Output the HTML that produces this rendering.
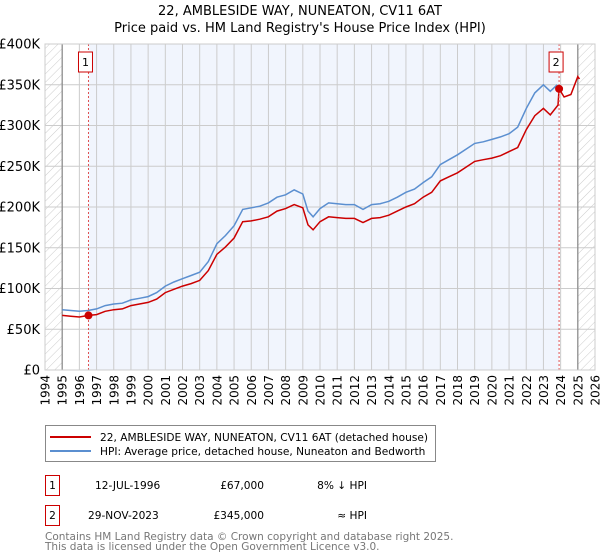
<!DOCTYPE html>
<html><head><meta charset="utf-8"><style>
body{margin:0;background:#fff;font-family:"Liberation Sans","DejaVu Sans",sans-serif;}
svg{display:block}
text{font-family:"DejaVu Sans","Liberation Sans",sans-serif;}
</style></head><body>
<svg id="chart" width="600" height="560" xmlns="http://www.w3.org/2000/svg">
<defs>
<pattern id="hatch" patternUnits="userSpaceOnUse" width="6" height="6" patternTransform="rotate(45)">
<line x1="0" y1="0" x2="0" y2="6" stroke="#ccc" stroke-width="1"/></pattern>
</defs>
<text x="300" y="15" text-anchor="middle" font-size="13">22, AMBLESIDE WAY, NUNEATON, CV11 6AT</text>
<text x="300" y="32" text-anchor="middle" font-size="13">Price paid vs. HM Land Registry's House Price Index (HPI)</text>
<g id="plot"></g>
<g>
<rect x="45.5" y="425.5" width="390" height="36" fill="#fff" stroke="#888"/>
<line x1="50" y1="437" x2="91" y2="437" stroke="#cc0000" stroke-width="2"/>
<text x="100" y="441" font-size="10.6">22, AMBLESIDE WAY, NUNEATON, CV11 6AT (detached house)</text>
<line x1="50" y1="451" x2="91" y2="451" stroke="#5b8fd0" stroke-width="2"/>
<text x="100" y="455" font-size="10.6">HPI: Average price, detached house, Nuneaton and Bedworth</text>
</g>
<g font-size="10.6">
<rect x="45.5" y="475.5" width="14" height="20" fill="#fff" stroke="#cc0000"/>
<text x="52.5" y="489" text-anchor="middle">1</text>
<text x="95" y="489">12-JUL-1996</text>
<text x="264" y="489" text-anchor="end">£67,000</text>
<text x="367" y="489" text-anchor="end">8% ↓ HPI</text>
<rect x="45.5" y="505.5" width="14" height="20" fill="#fff" stroke="#cc0000"/>
<text x="52.5" y="519" text-anchor="middle">2</text>
<text x="88" y="519">29-NOV-2023</text>
<text x="264" y="519" text-anchor="end">£345,000</text>
<text x="367" y="519" text-anchor="end">≈ HPI</text>
</g>
<text x="45" y="540" font-size="10.5" fill="#777">Contains HM Land Registry data © Crown copyright and database right 2025.</text>
<text x="45" y="550" font-size="10.5" fill="#777">This data is licensed under the Open Government Licence v3.0.</text>
</svg>
<script>
const yearTicks=[1994,1995,1996,1997,1998,1999,2000,2001,2002,2003,2004,2005,2006,2007,2008,2009,2010,2011,2012,2013,2014,2015,2016,2017,2018,2019,2020,2021,2022,2023,2024,2025,2026];
const priceTicks=[0,50,100,150,200,250,300,350,400];
const priceTickLabels=["£0","£50K","£100K","£150K","£200K","£250K","£300K","£350K","£400K"];
const hpiYears=[1995,1995.5,1996,1996.5,1997,1997.5,1998,1998.5,1999,1999.5,2000,2000.5,2001,2001.5,2002,2002.5,2003,2003.5,2004,2004.5,2005,2005.5,2006,2006.5,2007,2007.5,2008,2008.5,2009,2009.3,2009.6,2010,2010.5,2011,2011.5,2012,2012.5,2013,2013.5,2014,2014.5,2015,2015.5,2016,2016.5,2017,2017.5,2018,2018.5,2019,2019.5,2020,2020.5,2021,2021.5,2022,2022.5,2023,2023.4,2023.8];
const hpiValues=[74,73,72,73,75,79,81,82,86,88,90,95,103,108,112,116,120,133,155,165,177,197,199,201,205,212,215,221,216,195,188,198,205,204,203,203,197,203,204,207,212,218,222,230,237,252,258,264,271,278,280,283,286,290,298,321,340,350,342,350];
const priceYears=[1995,1995.5,1996,1996.53,1997,1997.5,1998,1998.5,1999,1999.5,2000,2000.5,2001,2001.5,2002,2002.5,2003,2003.5,2004,2004.5,2005,2005.5,2006,2006.5,2007,2007.5,2008,2008.5,2009,2009.3,2009.6,2010,2010.5,2011,2011.5,2012,2012.5,2013,2013.5,2014,2014.5,2015,2015.5,2016,2016.5,2017,2017.5,2018,2018.5,2019,2019.5,2020,2020.5,2021,2021.5,2022,2022.5,2023,2023.4,2023.85,2023.91,2024.2,2024.6,2025,2025.1];
const priceValues=[67,66,65,67,68,72,74,75,79,81,83,87,95,99,103,106,110,122,142,151,162,182,183,185,188,195,198,203,199,178,172,182,188,187,186,186,181,186,187,190,195,200,204,212,218,232,237,242,249,256,258,260,263,268,273,295,312,321,313,325,345,335,338,360,357];
const saleYears=[1996.53,2023.91];
const saleValues=[67,345];
const saleLabels=["1","2"];

const ns="http://www.w3.org/2000/svg";
const X0=45,X1=595,Y0=370,Y1=44;
const xs=y=>X0+(y-1994)/(2026-1994)*(X1-X0);
const ys=v=>Y0-v/400*(Y0-Y1);
const g=document.getElementById('plot');
function mk(tag,attrs){const e=document.createElementNS(ns,tag);for(const k in attrs)e.setAttribute(k,attrs[k]);g.appendChild(e);return e;}
const bg=mk('rect',{x:X0,y:Y1,width:X1-X0,height:Y0-Y1,fill:'#fff'});


const shade=mk('rect',{x:xs(saleYears[0]),y:Y1,width:xs(saleYears[1])-xs(saleYears[0]),height:Y0-Y1,fill:'#eef3fc',opacity:0.8});


const h1=mk('rect',{x:X0,y:Y1,width:xs(1995)-X0,height:Y0-Y1,fill:'url(#hatch)'});


const h2=mk('rect',{x:xs(2025),y:Y1,width:X1-xs(2025),height:Y0-Y1,fill:'url(#hatch)'});


yearTicks.forEach(yr=>{
 const l=mk('line',{x1:xs(yr),x2:xs(yr),y1:Y1,y2:Y0,stroke:'#ccc','stroke-width':1});
 
 
 const t=mk('text',{x:0,y:0,'font-size':12,'text-anchor':'end',transform:`translate(${xs(yr)+4.5},375) rotate(-90)`});
 t.textContent=yr;
 
 
});
priceTicks.forEach((v,i)=>{
 const l=mk('line',{x1:X0,x2:X1,y1:ys(v),y2:ys(v),stroke:'#ccc','stroke-width':1});
 
 
 const t=mk('text',{x:40,y:ys(v)+4.5,'font-size':13,'text-anchor':'end'});
 t.textContent=priceTickLabels[i];
 
 
});
[1995,2025].forEach(yr=>{
 const l=mk('line',{x1:xs(yr),x2:xs(yr),y1:Y1,y2:Y0,stroke:'#888','stroke-width':1.2});
 
 
});
const path=(xsArr,vals)=>xsArr.map((y,i)=>(i?'L':'M')+xs(y).toFixed(1)+','+ys(vals[i]).toFixed(1)).join('');
const hl=mk('path',{d:path(hpiYears,hpiValues),fill:'none',stroke:'#5b8fd0','stroke-width':1.5});


const pl=mk('path',{d:path(priceYears,priceValues),fill:'none',stroke:'#cc0000','stroke-width':1.5});


saleYears.forEach((yr,i)=>{
 const l=mk('line',{x1:xs(yr),x2:xs(yr),y1:Y1,y2:Y0,stroke:'#e05050','stroke-width':1,'stroke-dasharray':'2,2'});
 
 
 const c=mk('circle',{cx:xs(yr),cy:ys(saleValues[i]),r:4,fill:'#cc0000'});
 
 
 const b=mk('rect',{x:xs(yr)-10,y:52,width:14,height:20,fill:'#fff',stroke:'#cc0000'});
 
 
 const t=mk('text',{x:xs(yr)-3,y:66,'font-size':11,'text-anchor':'middle'});
 t.textContent=saleLabels[i];
 
 
});
const fr=mk('rect',{x:X0,y:Y1,width:X1-X0,height:Y0-Y1,fill:'none',stroke:'#ccc'});


</script>
</body></html>
